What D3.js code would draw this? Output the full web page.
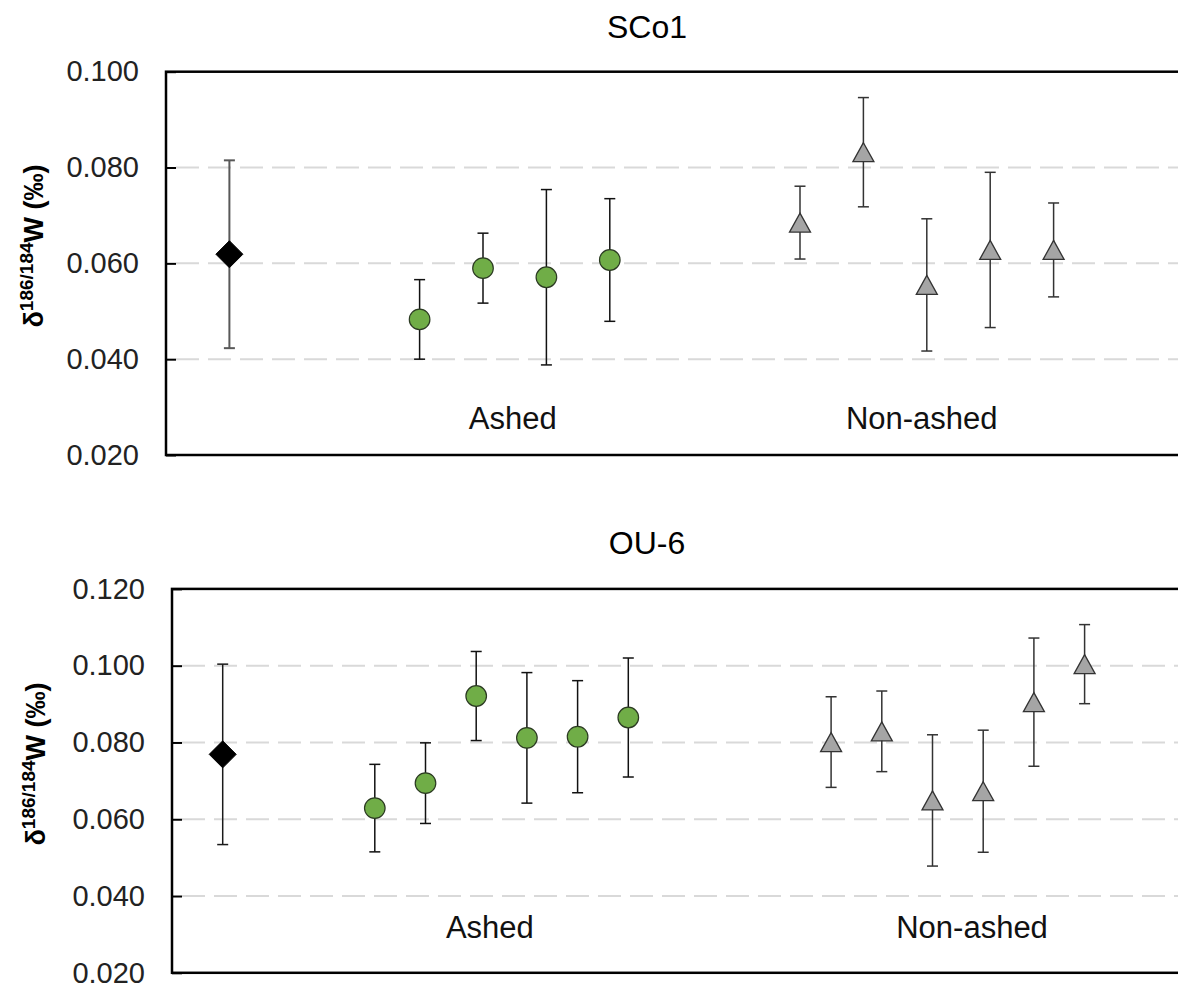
<!DOCTYPE html>
<html>
<head>
<meta charset="utf-8">
<script src="https://cdn.jsdelivr.net/npm/d3@7"></script>
<style>
  html, body { margin: 0; padding: 0; background: #fff; }
  svg { display: block; font-family: "Liberation Sans", Arial, sans-serif; }
</style>
</head>
<body>
<svg id="chart" width="1178" height="985"></svg>
<script>
// ---------- Data ----------
const panelTitles = ["SCo1", "OU-6"];
const groupLabels = ["Ashed", "Non-ashed"];
const yTicksTop = [0.02, 0.04, 0.06, 0.08, 0.10];
const yTicksBottom = [0.02, 0.04, 0.06, 0.08, 0.10, 0.12];

// SCo1
const scoRefX = [1];
const scoRefY = [0.0619];
const scoRefErr = [0.0196];
const scoAshedX = [4, 5, 6, 7];
const scoAshedY = [0.0483, 0.0590, 0.0571, 0.0607];
const scoAshedErr = [0.0083, 0.0073, 0.0183, 0.0128];
const scoNonX = [10, 11, 12, 13, 14];
const scoNonY = [0.0685, 0.0832, 0.0555, 0.0628, 0.0628];
const scoNonErr = [0.0076, 0.0114, 0.0138, 0.0162, 0.0098];
const scoLabelX = [5.47, 11.92];

// OU-6
const ouRefX = [1];
const ouRefY = [0.0769];
const ouRefErr = [0.0235];
const ouAshedX = [4, 5, 6, 7, 8, 9];
const ouAshedY = [0.0629, 0.0694, 0.0921, 0.0812, 0.0815, 0.0865];
const ouAshedErr = [0.0114, 0.0105, 0.0116, 0.0170, 0.0146, 0.0155];
const ouNonX = [13, 14, 15, 16, 17, 18];
const ouNonY = [0.0801, 0.0829, 0.0649, 0.0673, 0.0905, 0.1004];
const ouNonErr = [0.0118, 0.0105, 0.0171, 0.0159, 0.0167, 0.0103];
const ouLabelX = [6.27, 15.78];

const zip = (xs, ys, es) => xs.map((x, i) => ({ x, y: ys[i], e: es[i] }));

const panels = [
  {
    title: panelTitles[0], titleX: 647, titleY: 38,
    left: 166, top: 71.7, bottom: 455, xMax: 16, unit: 63.4,
    yDomain: [0.02, 0.10], yTicks: yTicksTop,
    ref: zip(scoRefX, scoRefY, scoRefErr), refErrColor: "#595959", refErrWidth: 2,
    ashed: zip(scoAshedX, scoAshedY, scoAshedErr),
    non: zip(scoNonX, scoNonY, scoNonErr),
    labelX: scoLabelX, labelY: 429,
    yLabelX: 43, yLabelY: 246
  },
  {
    title: panelTitles[1], titleX: 647, titleY: 554,
    left: 172, top: 588.9, bottom: 972.8, xMax: 20, unit: 50.7,
    yDomain: [0.02, 0.12], yTicks: yTicksBottom,
    ref: zip(ouRefX, ouRefY, ouRefErr), refErrColor: "#1a1a1a", refErrWidth: 1.5,
    ashed: zip(ouAshedX, ouAshedY, ouAshedErr),
    non: zip(ouNonX, ouNonY, ouNonErr),
    labelX: ouLabelX, labelY: 938,
    yLabelX: 45, yLabelY: 764
  }
];

const svg = d3.select("#chart");

panels.forEach(p => {
  const right = p.left + p.xMax * p.unit;
  const x = d3.scaleLinear().domain([0, p.xMax]).range([p.left, right]);
  const y = d3.scaleLinear().domain(p.yDomain).range([p.bottom, p.top]);
  const g = svg.append("g");

  // title
  g.append("text")
    .attr("x", p.titleX).attr("y", p.titleY)
    .attr("text-anchor", "middle")
    .attr("font-size", 32).attr("fill", "#000")
    .text(p.title);

  // gridlines
  const inner = p.yTicks.filter(v => v > p.yDomain[0] + 1e-9 && v < p.yDomain[1] - 1e-9);
  g.append("g").selectAll("line").data(inner).join("line")
    .attr("x1", p.left).attr("x2", right)
    .attr("y1", d => y(d)).attr("y2", d => y(d))
    .attr("stroke", "#d9d9d9").attr("stroke-width", 2)
    .attr("stroke-dasharray", "23,9").attr("stroke-dashoffset", -10);

  // y axis
  const ax = g.append("g")
    .attr("transform", `translate(${p.left},0)`)
    .call(d3.axisLeft(y).tickValues(p.yTicks).tickFormat(d3.format(".3f"))
      .tickSizeInner(-10).tickSizeOuter(0).tickPadding(27));
  ax.select(".domain").remove();
  ax.selectAll(".tick line").attr("stroke", "#000").attr("stroke-width", 2);
  ax.selectAll(".tick text").attr("font-size", 29).attr("fill", "#222")
    .attr("font-family", "'Liberation Sans', Arial, sans-serif");

  // plot frame
  g.append("rect")
    .attr("x", p.left).attr("y", p.top)
    .attr("width", right - p.left).attr("height", p.bottom - p.top)
    .attr("fill", "none").attr("stroke", "#000").attr("stroke-width", 2.5);

  // y label
  const yl = g.append("text")
    .attr("transform", `translate(${p.yLabelX},${p.yLabelY}) rotate(-90)`)
    .attr("text-anchor", "middle")
    .attr("font-weight", "bold").attr("font-size", 27).attr("fill", "#000");
  yl.append("tspan").text("δ");
  yl.append("tspan").attr("font-size", 19).attr("dy", -10).text("186/184");
  yl.append("tspan").attr("dy", 10).text("W (‰)");

  // group labels
  g.append("g").selectAll("text").data(groupLabels).join("text")
    .attr("x", (d, i) => x(p.labelX[i])).attr("y", p.labelY)
    .attr("text-anchor", "middle").attr("font-size", 31).attr("fill", "#111")
    .text(d => d);

  // error bars helper
  function errBars(data, color, width) {
    const eg = g.append("g").attr("stroke", color).attr("stroke-width", width);
    eg.selectAll("line.v").data(data).join("line").attr("class", "v")
      .attr("x1", d => x(d.x)).attr("x2", d => x(d.x))
      .attr("y1", d => y(d.y - d.e)).attr("y2", d => y(d.y + d.e));
    eg.selectAll("line.t").data(data).join("line").attr("class", "t")
      .attr("x1", d => x(d.x) - 5.5).attr("x2", d => x(d.x) + 5.5)
      .attr("y1", d => y(d.y + d.e)).attr("y2", d => y(d.y + d.e));
    eg.selectAll("line.b").data(data).join("line").attr("class", "b")
      .attr("x1", d => x(d.x) - 5.5).attr("x2", d => x(d.x) + 5.5)
      .attr("y1", d => y(d.y - d.e)).attr("y2", d => y(d.y - d.e));
  }

  errBars(p.ref, p.refErrColor, p.refErrWidth);
  errBars(p.ashed, "#111", 1.5);
  errBars(p.non, "#333", 1.5);

  // reference diamond
  g.append("g").selectAll("path").data(p.ref).join("path")
    .attr("transform", d => `translate(${x(d.x)},${y(d.y)})`)
    .attr("d", "M0,-13.5L13.5,0L0,13.5L-13.5,0Z")
    .attr("fill", "#000").attr("stroke", "#000").attr("stroke-width", 1);

  // ashed circles
  g.append("g").selectAll("circle").data(p.ashed).join("circle")
    .attr("cx", d => x(d.x)).attr("cy", d => y(d.y)).attr("r", 10.3)
    .attr("fill", "#70ad47").attr("stroke", "#2b3a22").attr("stroke-width", 1.2);

  // non-ashed triangles
  g.append("g").selectAll("path").data(p.non).join("path")
    .attr("transform", d => `translate(${x(d.x)},${y(d.y)})`)
    .attr("d", "M0,-9.5L10.5,9.5L-10.5,9.5Z")
    .attr("fill", "#a5a5a5").attr("stroke", "#333").attr("stroke-width", 1.3)
    .attr("stroke-linejoin", "miter");
});
</script>
</body>
</html>
